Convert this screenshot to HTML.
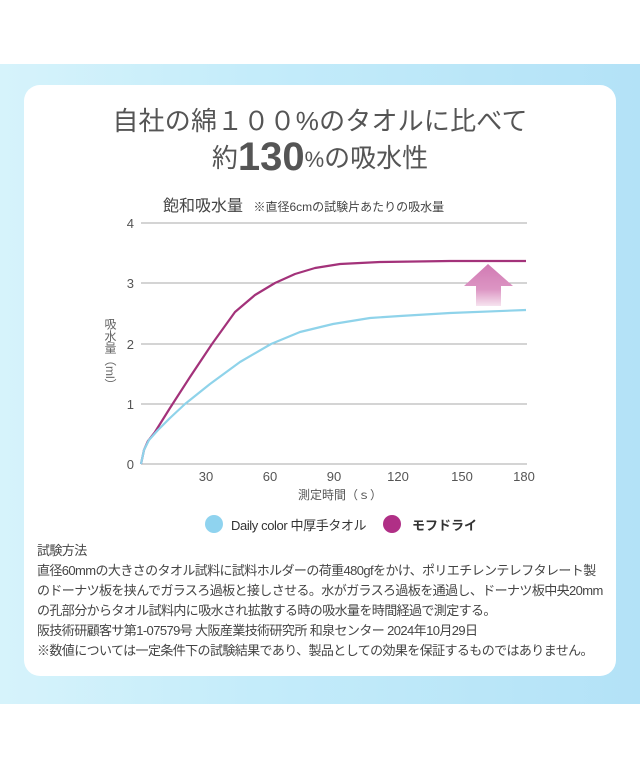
<!DOCTYPE html>
<html><head><meta charset="utf-8"><style>
body{margin:0;width:640px;height:768px;background:#fff;position:relative;overflow:hidden;font-family:"Liberation Sans","Noto Sans CJK JP",sans-serif;color:#444}
.band{position:absolute;left:0;top:64px;width:640px;height:640px;background:linear-gradient(90deg,#d6f3fb 0%,#c4ecfa 40%,#b3e2f7 100%)}
.card{position:absolute;left:24px;top:85px;width:592px;height:591px;background:#fff;border-radius:16px}
.t{position:absolute;white-space:nowrap}
.txt{position:absolute;left:37px;top:541px;font-size:13px;line-height:20px;color:#444;white-space:nowrap;letter-spacing:-0.6px}
</style></head><body>
<div class="band"></div>
<div class="card"></div>
<div class="t" style="left:0;width:640px;text-align:center;top:101px;font-size:26px;color:#555;letter-spacing:0.2px">自社の綿１００%のタオルに比べて</div>
<div class="t" style="left:0;width:640px;text-align:center;top:135px;font-size:26px;color:#555"><span>約</span><span style="font-size:40px;font-weight:bold;vertical-align:-3px">130</span><span style="font-size:22px">%</span>の吸水性</div>
<div class="t" style="left:163px;top:192px;font-size:16px;color:#444">飽和吸水量 <span style="font-size:12px;margin-left:6px">※直径6cmの試験片あたりの吸水量</span></div>
<svg width="640" height="768" style="position:absolute;left:0;top:0">
<defs><linearGradient id="ar" x1="0" y1="0" x2="0" y2="1"><stop offset="0" stop-color="#d17ab3"/><stop offset="0.6" stop-color="#dc95c3"/><stop offset="1" stop-color="#f6e3ef"/></linearGradient></defs>
<g stroke="#aaa" stroke-width="1">
<line x1="141" y1="223" x2="527" y2="223"/><line x1="141" y1="283" x2="527" y2="283"/><line x1="141" y1="344" x2="527" y2="344"/><line x1="141" y1="404" x2="527" y2="404"/><line x1="141" y1="464" x2="527" y2="464"/>
</g>
<g font-size="13" fill="#555" text-anchor="end" font-family="Liberation Sans">
<text x="134" y="228">4</text><text x="134" y="288">3</text><text x="134" y="349">2</text><text x="134" y="409">1</text><text x="134" y="469">0</text>
</g>
<g font-size="13" fill="#555" text-anchor="middle" font-family="Liberation Sans">
<text x="206" y="481">30</text><text x="270" y="481">60</text><text x="334" y="481">90</text><text x="398" y="481">120</text><text x="462" y="481">150</text><text x="524" y="481">180</text>
</g>
<polygon points="464,286 488,264 513,286 501,286 501,306 476,306 476,286" fill="url(#ar)"/>
<polyline points="141,464 144,450 148,441 155,432 170,408 190,377 212,344 235,312 255,295 275,283 295,274 315,268 340,264 380,262 450,261 526,261" fill="none" stroke="#a3327a" stroke-width="2.2" stroke-linejoin="round"/>
<polyline points="141,464 144,450 149,440 158,430 170,418 185,404 210,384 240,362 271,344 300,332 333,324 370,318 400,316 450,313 526,310" fill="none" stroke="#8fd3ea" stroke-width="2.2" stroke-linejoin="round"/>
<circle cx="214" cy="524" r="9" fill="#8fd3ef"/>
<circle cx="392" cy="524" r="9" fill="#b02f86"/>
</svg>
<div class="t" style="left:103px;top:318px;font-size:12px;color:#666;writing-mode:vertical-rl;line-height:14px">吸水量（ml）</div>
<div class="t" style="left:0;width:680px;text-align:center;top:486px;font-size:12px;color:#555">測定時間（ｓ）</div>
<div class="t" style="left:231px;top:515px;font-size:13px;color:#333;letter-spacing:-0.4px">Daily color 中厚手タオル</div>
<div class="t" style="left:412px;top:515px;font-size:13px;color:#333;font-weight:bold">モフドライ</div>
<div class="txt">試験方法<br>直径60mmの大きさのタオル試料に試料ホルダーの荷重480gfをかけ、ポリエチレンテレフタレート製<br>のドーナツ板を挟んでガラスろ過板と接しさせる。水がガラスろ過板を通過し、ドーナツ板中央20mm<br>の孔部分からタオル試料内に吸水され拡散する時の吸水量を時間経過で測定する。<br>阪技術研顧客サ第1-07579号 大阪産業技術研究所 和泉センター 2024年10月29日<br>※数値については一定条件下の試験結果であり、製品としての効果を保証するものではありません。</div>
</body></html>
